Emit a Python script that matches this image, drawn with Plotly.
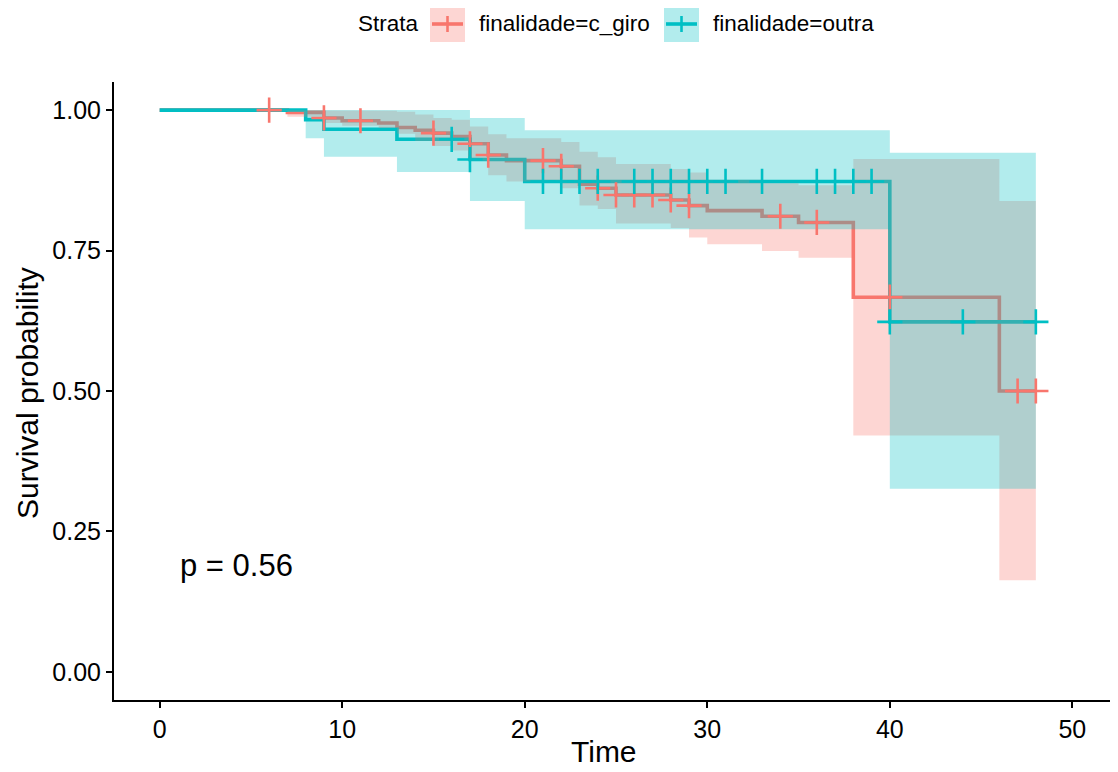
import plotly.graph_objects as go

# ---------------- data ----------------
red_name = "finalidade=c_giro"
teal_name = "finalidade=outra"

red_times = [0, 7, 9, 10, 12, 13, 14, 15, 16, 17, 18, 19, 22, 23, 24, 25, 28, 29, 30, 33, 35, 38, 46]
red_surv = [1.0, 0.996, 0.986, 0.981, 0.977, 0.969, 0.964, 0.959, 0.953, 0.940, 0.920, 0.910, 0.900,
            0.868, 0.861, 0.849, 0.840, 0.830, 0.821, 0.811, 0.800, 0.667, 0.500]
red_upper = [1.0, 1.0, 1.0, 1.0, 0.999, 0.997, 0.992, 0.986, 0.983, 0.971, 0.957, 0.950, 0.943,
             0.926, 0.916, 0.904, 0.895, 0.889, 0.876, 0.870, 0.866, 0.913, 0.838]
red_lower = [1.0, 0.988, 0.977, 0.972, 0.968, 0.958, 0.945, 0.936, 0.928, 0.910, 0.884, 0.873, 0.861,
             0.830, 0.824, 0.798, 0.790, 0.773, 0.761, 0.749, 0.737, 0.421, 0.163]
red_censor = [6, 9, 11, 15, 17, 18, 21, 22, 24, 25, 26, 27, 28, 29, 34, 36, 40, 47, 48]

teal_times = [0, 8, 9, 13, 17, 20, 40]
teal_surv = [1.0, 0.983, 0.966, 0.948, 0.912, 0.873, 0.623]
teal_upper = [1.0, 1.0, 1.0, 1.0, 0.986, 0.964, 0.924]
teal_lower = [1.0, 0.950, 0.917, 0.890, 0.838, 0.788, 0.326]
teal_censor = [16, 17, 21, 22, 23, 24, 26, 27, 28, 29, 30, 31, 33, 36, 37, 38, 39, 40, 44, 48]

t_end = 48
x_ticks = [0, 10, 20, 30, 40, 50]
y_ticks = [0, 0.25, 0.5, 0.75, 1.0]
y_ticklabels = ["0.00", "0.25", "0.50", "0.75", "1.00"]
p_text = "p = 0.56"
x_title = "Time"
y_title = "Survival probability"
legend_title = "Strata"

RED = "#F8766D"
TEAL = "#00BFC4"
RED_FILL = "rgba(248,118,109,0.3)"
TEAL_FILL = "rgba(0,191,196,0.3)"
FONT = "Liberation Sans, Arial, sans-serif"


def step_value(times, vals, t):
    v = vals[0]
    for ti, vi in zip(times, vals):
        if ti <= t:
            v = vi
    return v


def ribbon(times, up, lo, tmax):
    xs, ys = [], []
    for i, t in enumerate(times):
        tn = times[i + 1] if i + 1 < len(times) else tmax
        xs += [t, tn]
        ys += [up[i], up[i]]
    for i in reversed(range(len(times))):
        t = times[i]
        tn = times[i + 1] if i + 1 < len(times) else tmax
        xs += [tn, t]
        ys += [lo[i], lo[i]]
    return xs, ys


fig = go.Figure()

# step curves (drawn first, under ribbons)
for times, surv, col in [(red_times, red_surv, RED), (teal_times, teal_surv, TEAL)]:
    fig.add_trace(go.Scatter(x=times + [t_end], y=surv + [surv[-1]], mode="lines",
                             line=dict(color=col, width=3.6, shape="hv"),
                             showlegend=False, hoverinfo="skip"))

# confidence ribbons
for times, up, lo, fc in [(red_times, red_upper, red_lower, RED_FILL),
                          (teal_times, teal_upper, teal_lower, TEAL_FILL)]:
    xs, ys = ribbon(times, up, lo, t_end)
    fig.add_trace(go.Scatter(x=xs, y=ys, mode="lines", fill="toself", fillcolor=fc,
                             line=dict(width=0), showlegend=False, hoverinfo="skip"))

# censor marks
for times, surv, cens, col in [(red_times, red_surv, red_censor, RED),
                               (teal_times, teal_surv, teal_censor, TEAL)]:
    fig.add_trace(go.Scatter(x=cens, y=[step_value(times, surv, c) for c in cens], mode="markers",
                             marker=dict(symbol="cross-thin", size=18, line=dict(width=2.6, color=col)),
                             showlegend=False, hoverinfo="skip"))

# p-value
fig.add_annotation(x=1, y=0.19, xref="x", yref="y", text=p_text, showarrow=False,
                   xanchor="left", yanchor="middle", font=dict(family=FONT, size=31, color="black"))

# ---------------- layout helpers ----------------
# the page body has an 8px margin, so the figure is drawn 8px in from the window corner
OFF = 8
W, H = 1118 - OFF, 772 - OFF
ML, MR, MT, MB = 114 - OFF, 0, 82 - OFF, 72
PW, PH = W - ML - MR, H - MT - MB


def px(x):
    return (x - OFF - ML) / PW


def py(y):
    return (H - MB - (y - OFF)) / PH


# axis titles
fig.add_annotation(x=px(604), y=py(751), xref="paper", yref="paper", text=x_title, showarrow=False,
                   xanchor="center", yanchor="middle", font=dict(family=FONT, size=30, color="black"))
fig.add_annotation(x=px(27), y=py(393), xref="paper", yref="paper", text=y_title, showarrow=False,
                   textangle=-90, xanchor="center", yanchor="middle",
                   font=dict(family=FONT, size=30, color="black"))

# custom legend
leg_y = 24
fig.add_annotation(x=px(356), y=py(leg_y), xref="paper", yref="paper", text=legend_title, showarrow=False,
                   xanchor="left", yanchor="middle", font=dict(family=FONT, size=22.5, color="black"))
for x0, col, fc, label in [(430, RED, RED_FILL, red_name), (664, TEAL, TEAL_FILL, teal_name)]:
    fig.add_shape(type="rect", xref="paper", yref="paper", x0=px(x0), x1=px(x0 + 35),
                  y0=py(leg_y + 18), y1=py(leg_y - 18), fillcolor=fc, line=dict(width=0), layer="above")
    fig.add_shape(type="line", xref="paper", yref="paper", x0=px(x0 + 2), x1=px(x0 + 33),
                  y0=py(leg_y), y1=py(leg_y), line=dict(color=col, width=3.6), layer="above")
    fig.add_shape(type="line", xref="paper", yref="paper", x0=px(x0 + 17.5), x1=px(x0 + 17.5),
                  y0=py(leg_y - 8), y1=py(leg_y + 8), line=dict(color=col, width=2.6), layer="above")
    fig.add_annotation(x=px(x0 + 47), y=py(leg_y), xref="paper", yref="paper", text=label,
                       showarrow=False, xanchor="left", yanchor="middle",
                       font=dict(family=FONT, size=22.5, color="black"))

axis_common = dict(showline=True, linecolor="black", linewidth=2, ticks="outside", ticklen=6,
                   tickwidth=2, tickcolor="black", showgrid=False, zeroline=False, automargin=False,
                   tickfont=dict(family=FONT, size=25, color="black"))

fig.update_layout(
    width=W, height=H,
    margin=dict(l=ML, r=MR, t=MT, b=MB),
    plot_bgcolor="white", paper_bgcolor="white",
    showlegend=False,
    xaxis=dict(range=[-2.5, 52.5], tickvals=x_ticks, ticktext=[str(v) for v in x_ticks], **axis_common),
    yaxis=dict(range=[-0.05, 1.05], tickvals=y_ticks, ticktext=y_ticklabels, **axis_common),
)

fig.write_html("out.html")
